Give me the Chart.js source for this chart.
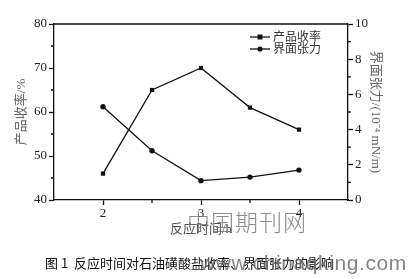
<!DOCTYPE html>
<html>
<head>
<meta charset="utf-8">
<script src="https://cdn.jsdelivr.net/npm/chart.js@4/dist/chart.umd.min.js"></script>
<style>
  html, body { margin: 0; padding: 0; background: #fff; }
  #wrap { position: relative; width: 415px; height: 279px; overflow: hidden; }
  #wrap canvas { position: absolute; left: 0; top: 0; }
  .mark-cn { position: absolute; left: 187px; top: 204px; font: 300 23px "Noto Sans CJK SC"; color: rgba(110,110,110,0.8); letter-spacing: 1px; white-space: nowrap; }
  .caption { position: absolute; left: 45px; top: 254px; font: 13px "Noto Sans CJK SC"; color: #111; white-space: nowrap; line-height: 18px; }
  .mark-url { position: absolute; left: 200px; top: 251px; font: 21px "Liberation Sans", Arial, sans-serif; color: rgba(110,110,110,0.85); white-space: nowrap; letter-spacing: 0.6px; }
</style>
</head>
<body>
<div id="wrap">
  <canvas id="c" width="415" height="279"></canvas>
  <div class="mark-cn">中国期刊网</div>
  <div class="caption">图 1&nbsp; 反应时间对石油磺酸盐收率、界面张力的影响</div>
  <div class="mark-url">www.chinaqking.com</div>
</div>
<script>
// reaction time (h)
const times = [2, 2.5, 3, 3.5, 4];
// product yield (%)
const yieldPct = [46, 65, 70, 61, 56];
// interfacial tension (10^-4 mN/m)
const tension = [5.3, 2.8, 1.1, 1.3, 1.7];

const xTicks = [2, 3, 4];
const xMinor = [2.5, 3.5];
const yTicks = [40, 50, 60, 70, 80];
const yMinor = [45, 55, 65, 75];
const y1Ticks = [0, 2, 4, 6, 8, 10];
const y1Minor = [1, 3, 5, 7, 9];

const ink = '#111';
const serif = '"Liberation Serif", "Times New Roman", serif';
const cjk = '"Liberation Serif", "Noto Sans CJK SC", serif';

// short minor ticks, top frame line and the legend block
const extras = {
  id: 'extras',
  afterDraw(chart) {
    const ctx = chart.ctx;
    const a = chart.chartArea;
    const sx = chart.scales.x, sy = chart.scales.y, sy1 = chart.scales.y1;
    ctx.save();
    ctx.strokeStyle = ink;
    ctx.lineWidth = 1.3;
    ctx.beginPath();
    ctx.moveTo(a.left, a.top); ctx.lineTo(a.right, a.top);
    xMinor.forEach(v => { const p = sx.getPixelForValue(v); ctx.moveTo(p, a.bottom); ctx.lineTo(p, a.bottom + 3); });
    yMinor.forEach(v => { const p = sy.getPixelForValue(v); ctx.moveTo(a.left, p); ctx.lineTo(a.left - 3, p); });
    y1Minor.forEach(v => { const p = sy1.getPixelForValue(v); ctx.moveTo(a.right, p); ctx.lineTo(a.right + 3, p); });
    ctx.stroke();

    // legend
    const items = [
      { label: chart.data.datasets[0].label, style: 'rect', y: 37 },
      { label: chart.data.datasets[1].label, style: 'circle', y: 49 }
    ];
    items.forEach(it => {
      ctx.strokeStyle = ink; ctx.fillStyle = ink; ctx.lineWidth = 1.3;
      ctx.beginPath(); ctx.moveTo(250, it.y); ctx.lineTo(270, it.y); ctx.stroke();
      ctx.beginPath();
      if (it.style === 'rect') ctx.rect(257.5, it.y - 2.5, 5, 5);
      else ctx.arc(260, it.y, 2.6, 0, Math.PI * 2);
      ctx.fill();
      ctx.font = '12px "Noto Sans CJK SC"';
      ctx.fillStyle = '#333';
      ctx.textBaseline = 'middle';
      ctx.fillText(it.label, 273, it.y - 1);
    });
    ctx.restore();
  }
};

const tickFont = { family: serif, size: 13 };

new Chart(document.getElementById('c'), {
  type: 'line',
  data: {
    datasets: [
      {
        label: '产品收率',
        data: times.map((t, i) => ({ x: t, y: yieldPct[i] })),
        yAxisID: 'y',
        borderColor: ink, backgroundColor: ink, borderWidth: 1.3,
        pointStyle: 'rect', pointRadius: 3, pointBorderWidth: 0,
        tension: 0
      },
      {
        label: '界面张力',
        data: times.map((t, i) => ({ x: t, y: tension[i] })),
        yAxisID: 'y1',
        borderColor: ink, backgroundColor: ink, borderWidth: 1.3,
        pointStyle: 'circle', pointRadius: 2.7, pointBorderWidth: 0,
        tension: 0
      }
    ]
  },
  options: {
    responsive: false,
    animation: false,
    devicePixelRatio: 1,
    layout: { padding: { top: 24, left: 0, right: 0, bottom: 0 } },
    plugins: { legend: { display: false }, tooltip: { enabled: false } },
    scales: {
      x: {
        type: 'linear', position: 'bottom', min: 1.5, max: 4.5,
        afterBuildTicks: s => { s.ticks = xTicks.map(v => ({ value: v })); },
        afterFit: s => { s.height = 79; },
        ticks: { font: tickFont, color: '#222', padding: 1, maxRotation: 0 },
        grid: { drawOnChartArea: false, drawTicks: true, tickLength: 5, color: ink, tickWidth: 1.3 },
        border: { display: true, color: ink, width: 1.3 },
        title: { display: true, text: '反应时间/h', font: { family: cjk, size: 13 }, color: '#555', padding: { top: 42, bottom: 42 } }
      },
      y: {
        type: 'linear', position: 'left', min: 40, max: 80,
        afterBuildTicks: s => { s.ticks = yTicks.map(v => ({ value: v })); },
        afterFit: s => { s.width = 54; },
        ticks: { font: tickFont, color: '#222', padding: 2 },
        grid: { drawOnChartArea: false, drawTicks: true, tickLength: 5, color: ink, tickWidth: 1.3 },
        border: { display: true, color: ink, width: 1.3 },
        title: { display: true, text: '产品收率/%', font: { family: cjk, size: 13 }, color: '#666', padding: { top: 14, bottom: 14 } }
      },
      y1: {
        type: 'linear', position: 'right', min: 0, max: 10,
        afterBuildTicks: s => { s.ticks = y1Ticks.map(v => ({ value: v })); },
        afterFit: s => { s.width = 67; },
        ticks: { font: tickFont, color: '#222', padding: 2 },
        grid: { drawOnChartArea: false, drawTicks: true, tickLength: 5, color: ink, tickWidth: 1.3 },
        border: { display: true, color: ink, width: 1.3 },
        title: { display: true, text: '界面张力/(10⁻⁴ mN/m)', font: { family: cjk, size: 13 }, color: '#666', padding: { top: 32, bottom: 32 } }
      }
    }
  },
  plugins: [extras]
});
</script>
</body>
</html>
